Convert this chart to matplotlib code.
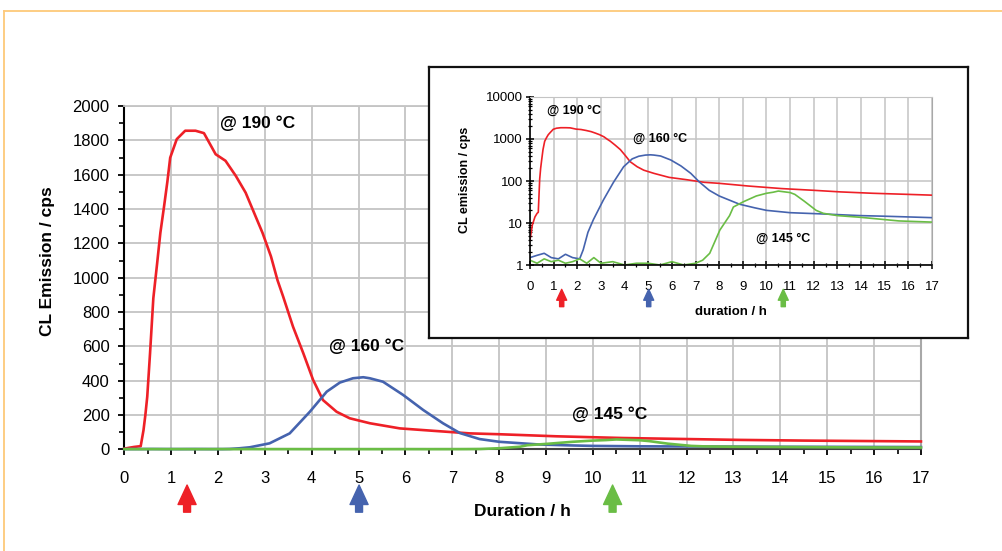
import matplotlib
matplotlib.use("Agg")
import matplotlib.pyplot as plt
from matplotlib.lines import Line2D
from matplotlib.ticker import MultipleLocator, FixedLocator, NullFormatter, LogLocator

plt.rcParams['font.family'] = ['Liberation Sans', 'DejaVu Sans']

# CL emission data (time in h, counts per second)
red_t = [0, 0.1, 0.21, 0.3, 0.35, 0.41, 0.45, 0.49, 0.55, 0.62, 0.7, 0.77, 0.85, 0.92, 0.98,
         1.12, 1.3, 1.52, 1.7, 1.95, 2.16, 2.38, 2.59, 2.77, 2.95, 3.13, 3.27, 3.39, 3.6, 3.82,
         4.03, 4.24, 4.53, 4.81, 5.24, 5.88, 6.59, 7.37, 8.0, 9.22, 10.64, 12.0, 13.13, 14.5,
         16.0, 17.0]
red_v = [4, 9, 14, 17, 18, 111, 200, 306, 560, 880, 1080, 1261, 1417, 1560, 1699,
         1807, 1856, 1856, 1842, 1719, 1681, 1593, 1495, 1378, 1261, 1124, 985, 890, 715, 560,
         404, 287, 219, 181, 152, 122, 108, 93, 88, 76, 66, 60, 55, 51,
         48, 46]

blue_t = [0, 0.3, 0.6, 0.9, 1.2, 1.5, 1.8, 2.1, 2.25, 2.45, 2.68, 3.1, 3.53, 3.96, 4.32,
          4.6, 4.88, 5.1, 5.24, 5.52, 5.95, 6.38, 6.8, 7.16, 7.58, 8.0, 8.86, 9.5, 10.0, 11.0,
          12.4, 13.95, 15.0, 15.9, 17.0]
blue_v = [1.5, 1.7, 1.9, 1.5, 1.4, 1.8, 1.5, 1.4, 2.3, 6, 12, 35, 93, 219, 336,
          389, 414, 420, 414, 394, 317, 229, 152, 95, 60, 44, 28, 23, 20, 17.6,
          16.4, 15, 14.5, 14, 13.4]

green_t = [0, 0.3, 0.6, 0.9, 1.2, 1.5, 1.8, 2.1, 2.4, 2.7, 3.0, 3.5, 4.0, 4.5, 5.0, 5.5,
           6.0, 6.5, 7.0, 7.3, 7.6, 8.03, 8.44, 8.6, 9.02, 9.57, 10.0, 10.28, 10.5, 11.0,
           11.2, 11.6, 12.1, 12.4, 13.0, 13.95, 15.6, 17.0]
green_v = [1.3, 1.1, 1.4, 1.2, 1.3, 1.1, 1.2, 1.4, 1.1, 1.5, 1.1, 1.2, 1.0, 1.1, 1.1, 1.0,
           1.2, 1.0, 1.1, 1.3, 1.9, 6.8, 15, 24, 32, 44, 51, 54, 57.6, 53,
           48, 33, 20, 17, 15, 13.7, 11.2, 10.5]

labels = ['@ 190 °C', '@ 160 °C', '@ 145 °C']
colors = ['#EE2027', '#4563AE', '#6ABD45']
# peak markers (arrows) in h
main_arrows = [1.34, 5.01, 10.42]
inset_arrows = [1.34, 5.02, 10.71]

grid_col = '#C4C4C4'

fig = plt.figure(figsize=(10.03, 5.51), dpi=100)

# orange frame round the figure
fig.add_artist(Line2D([4 / 1003, 1], [1 - 10.7 / 551, 1 - 10.7 / 551], color='#FDC97A', lw=1.3))
fig.add_artist(Line2D([4 / 1003, 4 / 1003], [0, 1 - 10.7 / 551], color='#FDC97A', lw=1.3))

# ---- main linear chart
ax = fig.add_axes([0.1239, 0.1845, 0.7943, 0.6231])
series = [(red_t, red_v), (blue_t, blue_v), (green_t, green_v)]
for (t, v), c in zip(series, colors):
    ax.plot(t, v, color=c, lw=1.9, clip_on=False, zorder=3)

ax.set_xlim(0, 17)
ax.set_ylim(0, 2000)
ax.xaxis.set_major_locator(MultipleLocator(1))
ax.xaxis.set_minor_locator(MultipleLocator(0.5))
ax.yaxis.set_major_locator(MultipleLocator(200))
ax.yaxis.set_minor_locator(MultipleLocator(100))
ax.grid(True, which='major', color=grid_col, lw=1.3)
ax.set_axisbelow(True)
ax.tick_params(axis='both', which='major', labelsize=12, width=1.3, length=4.5, color='black')
ax.tick_params(axis='y', which='major', pad=6)
ax.tick_params(axis='x', which='major', pad=11)
ax.tick_params(axis='both', which='minor', width=1.2, length=3.5)
ax.spines['left'].set_linewidth(1.5)
ax.spines['bottom'].set_linewidth(1.5)
ax.spines['bottom'].set_color('#444444')
ax.spines['top'].set_color(grid_col)
ax.spines['top'].set_linewidth(1.3)
ax.spines['right'].set_color('#A8A8A8')
ax.spines['right'].set_linewidth(1.5)

ax.text(-0.096, 0.547, 'CL Emission / cps', transform=ax.transAxes, rotation=90,
        ha='center', va='center', fontsize=12.5, fontweight='bold')
ax.text(0.5, -0.18, 'Duration / h', transform=ax.transAxes,
        ha='center', va='center', fontsize=12.5, fontweight='bold')

ax.text(2.85, 1901, labels[0], ha='center', va='center', fontsize=12.5, fontweight='bold')
ax.text(5.17, 598, labels[1], ha='center', va='center', fontsize=12.5, fontweight='bold')
ax.text(10.35, 204, labels[2], ha='center', va='center', fontsize=12.5, fontweight='bold')

for xa, c in zip(main_arrows, colors):
    ax.annotate('', xy=(xa, -0.104), xytext=(xa, -0.183), xycoords=ax.get_xaxis_transform(),
                arrowprops=dict(arrowstyle='simple,head_length=0.7,head_width=0.65,tail_width=0.25',
                                color=c, mutation_scale=20, shrinkA=0, shrinkB=0),
                annotation_clip=False)

# ---- inset box
box = fig.add_axes([429 / 1003, 1 - 338 / 551, (967.7 - 429) / 1003, (338 - 67.3) / 551])
box.set_xticks([])
box.set_yticks([])
for s in box.spines.values():
    s.set_linewidth(1.6)
    s.set_color('#111111')

# ---- inset log chart
ins = fig.add_axes([530 / 1003, 1 - 265 / 551, 402 / 1003, 168 / 551])
for (t, v), c in zip(series, colors):
    ins.plot(t, v, color=c, lw=1.2)
ins.set_yscale('log')
ins.set_xlim(0, 17)
ins.set_ylim(1, 10000)
ins.xaxis.set_major_locator(MultipleLocator(1))
ins.xaxis.set_minor_locator(MultipleLocator(0.5))
ins.yaxis.set_major_locator(FixedLocator([1, 10, 100, 1000, 10000]))
ins.set_yticklabels(['1', '10', '100', '1000', '10000'])
ins.yaxis.set_minor_locator(LogLocator(base=10, subs=range(2, 10)))
ins.yaxis.set_minor_formatter(NullFormatter())
ins.grid(True, which='major', color=grid_col, lw=1.1)
ins.set_axisbelow(True)
ins.tick_params(axis='both', which='major', labelsize=9.5, direction='inout', length=6, width=1.1)
ins.tick_params(axis='both', which='minor', direction='inout', length=3.5, width=0.9)
ins.tick_params(axis='x', which='major', pad=8.5)
ins.tick_params(axis='y', which='major', pad=2)
for s in ['left', 'bottom']:
    ins.spines[s].set_linewidth(1.2)
ins.spines['top'].set_color(grid_col)
ins.spines['right'].set_color('#A8A8A8')

ins.text(-0.162, 0.506, 'CL emission / cps', transform=ins.transAxes, rotation=90,
         ha='center', va='center', fontsize=9, fontweight='bold')
ins.text(0.5, -0.278, 'duration / h', transform=ins.transAxes,
         ha='center', va='center', fontsize=9.5, fontweight='bold')
ins.text(1.85, 4720, labels[0], ha='center', va='center', fontsize=9, fontweight='bold')
ins.text(5.51, 1000, labels[1], ha='center', va='center', fontsize=9, fontweight='bold')
ins.text(10.71, 4.3, labels[2], ha='center', va='center', fontsize=9, fontweight='bold')

for xa, c in zip(inset_arrows, colors):
    ins.annotate('', xy=(xa, -0.145), xytext=(xa, -0.248), xycoords=ins.get_xaxis_transform(),
                 arrowprops=dict(arrowstyle='simple,head_length=0.65,head_width=0.6,tail_width=0.25',
                                 color=c, mutation_scale=12, shrinkA=0, shrinkB=0),
                 annotation_clip=False)

fig.savefig('out.png', dpi=100)
